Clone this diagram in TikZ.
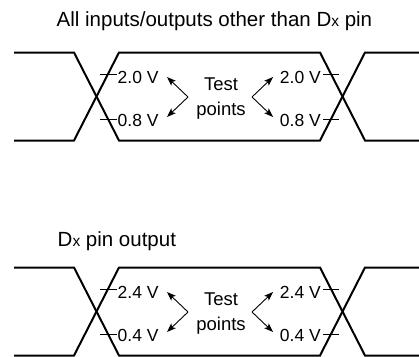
\documentclass[tikz,border=0pt]{standalone}
\usepackage{fontspec}
\setmainfont{Liberation Sans}
\usetikzlibrary{arrows.meta}
\tikzset{
  wave/.style={line width=2pt, line join=miter},
  tickln/.style={line width=0.8pt},
  tparrow/.style={line width=0.9pt, -{Stealth[length=9pt,width=6.5pt,inset=2pt]}},
  lbl/.style={inner sep=0pt, font=\fontsize{17.5}{17.5}\selectfont},
  tp/.style={inner sep=0pt, align=center, font=\fontsize{18.5}{25}\selectfont},
  ttl/.style={inner sep=0pt, anchor=base west, font=\fontsize{20.5}{21}\selectfont}
}
\newcommand{\smallx}{{\fontsize{15.5}{16}\selectfont x}}
\begin{document}
\begin{tikzpicture}[x=1pt,y=-1pt]
\useasboundingbox (0,0) rectangle (419,356);
% titles
\node[ttl] (t1) at (56.5,26) {All inputs/outputs other than D\smallx\ pin};
\node[ttl] (t2) at (57.5,246.5) {D\smallx\ pin output};
% two panels
\foreach \dy/\hi/\lo/\hilbl/\lolbl/\pn in {0/52.5/140.5/2.0 V/0.8 V/a, 215/52.5/140.5/2.4 V/0.4 V/b}{
\begin{scope}[shift={(0,\dy)}]
  \draw[wave] (14,\hi) -- (74,\hi) -- (119,\lo) -- (320,\lo) -- (365,\hi) -- (419,\hi);
  \draw[wave] (14,\lo) -- (74,\lo) -- (119,\hi) -- (320,\hi) -- (365,\lo) -- (419,\lo);
  % ticks
  \draw[tickln] (100,74) -- (117,74);
  \draw[tickln] (100,119) -- (117,119);
  \draw[tickln] (323,74) -- (339,74);
  \draw[tickln] (323,119) -- (339,119);
  % labels
  \node[lbl, anchor=west] (lh\pn) at (117.5,77.5) {\hilbl};
  \node[lbl, anchor=west] (ll\pn) at (117.5,120.5) {\lolbl};
  \node[lbl, anchor=east] (rh\pn) at (321,77.5) {\hilbl};
  \node[lbl, anchor=east] (rl\pn) at (321,120.5) {\lolbl};
  % test points
  \node[tp] (tp\pn) at (221,98.5) {Test\\points};
  \coordinate (vl\pn) at (188,97);
  \coordinate (vr\pn) at (252,97);
  \coordinate (al\pn) at (167,77);
  \coordinate (bl\pn) at (167,117);
  \coordinate (ar\pn) at (273,77);
  \coordinate (br\pn) at (273,117);
  \draw[tparrow] (vl\pn) -- (al\pn);
  \draw[tparrow] (vl\pn) -- (bl\pn);
  \draw[tparrow] (vr\pn) -- (ar\pn);
  \draw[tparrow] (vr\pn) -- (br\pn);
\end{scope}
}
\end{tikzpicture}
\end{document}
